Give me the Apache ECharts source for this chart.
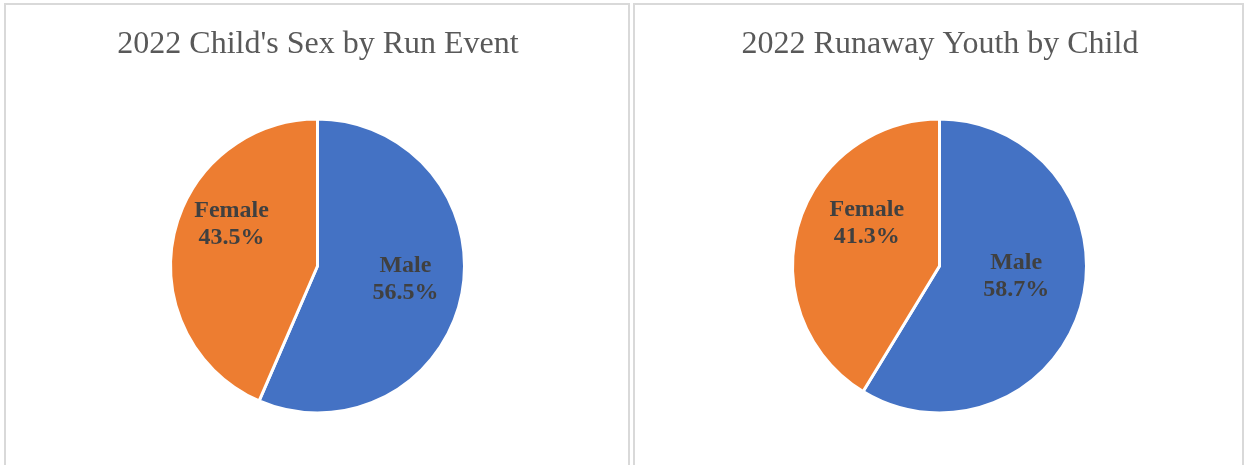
<!DOCTYPE html>
<html>
<head>
<meta charset="utf-8">
<script src="https://cdn.jsdelivr.net/npm/echarts@6/dist/echarts.min.js"></script>
<style>
html,body{margin:0;padding:0;background:#fff;}
#chart{width:1244px;height:465px;}
</style>
</head>
<body>
<div id="chart"></div>
<script>
const categories = ['Male', 'Female'];
const runEventValues = [56.5, 43.5];
const runawayValues = [58.7, 41.3];
const chartTitles = ["2022 Child's Sex by Run Event", '2022 Runaway Youth by Child'];
const sliceColors = ['#4472C4', '#ED7D31'];

const FONT = "'Liberation Serif', 'Times New Roman', serif";
// label nudges (px) from the default inside position, per series / slice
const labelShift = [
  [[13, -2], [-11, -26]],
  [[3, -10], [1, -22]]
];

function makeData(values) {
  return categories.map((c, i) => ({ name: c, value: values[i], itemStyle: { color: sliceColors[i] } }));
}

function makeSeries(values, cx, idx) {
  return {
    type: 'pie',
    center: [cx, 266],
    radius: [0, 147],
    startAngle: 90,
    clockwise: true,
    avoidLabelOverlap: false,
    silent: true,
    animation: false,
    itemStyle: { borderColor: '#ffffff', borderWidth: 3 },
    label: {
      show: true,
      position: 'inside',
      formatter: p => p.name + '\n' + p.value.toFixed(1) + '%',
      fontFamily: FONT,
      fontWeight: 'bold',
      fontSize: 24,
      lineHeight: 27,
      color: '#404040'
    },
    labelLine: { show: false },
    labelLayout: function (params) {
      const s = labelShift[idx][params.dataIndex];
      return { dx: s[0], dy: s[1] };
    },
    data: makeData(values)
  };
}

const chart = echarts.init(document.getElementById('chart'), null, { renderer: 'canvas' });
chart.setOption({
  backgroundColor: '#ffffff',
  animation: false,
  title: [
    { text: chartTitles[0], left: 313, top: 24, textAlign: 'center',
      textStyle: { fontFamily: FONT, fontWeight: 'normal', fontSize: 32, color: '#595959' } },
    { text: chartTitles[1], left: 935, top: 24, textAlign: 'center',
      textStyle: { fontFamily: FONT, fontWeight: 'normal', fontSize: 32, color: '#595959' } }
  ],
  graphic: [
    { type: 'rect', shape: { x: 5, y: 4, width: 624, height: 470 }, style: { fill: 'none', stroke: '#d9d9d9', lineWidth: 2 }, silent: true },
    { type: 'rect', shape: { x: 634, y: 4, width: 609, height: 470 }, style: { fill: 'none', stroke: '#d9d9d9', lineWidth: 2 }, silent: true }
  ],
  series: [
    makeSeries(runEventValues, 317.5, 0),
    makeSeries(runawayValues, 939.5, 1)
  ]
});
</script>
</body>
</html>
